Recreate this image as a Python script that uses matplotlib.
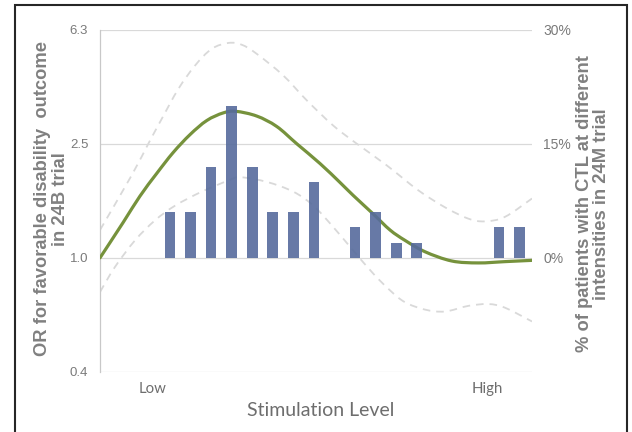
import numpy as np
import matplotlib
matplotlib.use("Agg")
import matplotlib.pyplot as plt
from matplotlib.path import Path
from matplotlib.patches import PathPatch, Rectangle

# ---- data -----------------------------------------------------------------
# share of patients (%) at each stimulation intensity slot (24M trial)
bar_pct = [0, 0, 0, 6, 6, 12, 20, 12, 6, 6, 10, 0, 4, 6, 2, 2, 0, 0, 0, 4, 4]

# odds ratio curve (24B trial) with its confidence band
or_x = [-0.4, 0.73, 1.54, 2.36, 3.16, 3.98, 4.79, 5.59, 6.21, 7.22, 8.19,
        9.16, 10.30, 11.27, 11.91, 12.89, 13.70, 14.43, 15.40, 16.70, 17.99,
        19.29, 20.6]
or_val = [1.00, 1.33, 1.64, 1.97, 2.33, 2.69, 3.01, 3.20, 3.24, 3.12, 2.87,
          2.50, 2.13, 1.83, 1.65, 1.42, 1.25, 1.15, 1.05, 0.975, 0.96,
          0.97, 0.98]

upper_x = [-0.4, 1.14, 1.95, 2.60, 3.41, 4.22, 5.03, 5.84, 6.49, 7.22, 8.51,
           9.65, 10.94, 12.08, 13.54, 15.07, 16.37, 17.50, 18.32, 19.29, 20.6]
upper_val = [1.25, 1.94, 2.50, 3.05, 3.88, 4.68, 5.35, 5.61, 5.53, 5.14, 4.32,
             3.54, 2.89, 2.50, 2.10, 1.72, 1.50, 1.37, 1.34, 1.39, 1.61]

lower_x = [-0.4, 0.33, 1.30, 2.27, 3.25, 4.54, 5.84, 6.41, 7.70, 9.00, 9.97,
           10.94, 11.91, 12.89, 13.70, 14.43, 15.40, 16.37, 17.50, 18.48, 19.29, 20.6]
lower_val = [0.76, 0.93, 1.15, 1.35, 1.52, 1.70, 1.86, 1.91, 1.84, 1.70, 1.52,
             1.28, 1.06, 0.88, 0.77, 0.70, 0.66, 0.65, 0.68, 0.69, 0.67, 0.60]

or_ticks = [0.4, 1.0, 2.5, 6.25]
or_tick_labels = ["0.4", "1.0", "2.5", "6.3"]
pct_ticks = [0, 15, 30]
pct_tick_labels = ["0%", "15%", "30%"]
level_labels = ["Low", "High"]

# ---- style ----------------------------------------------------------------
GREEN = "#76923C"
BAND = "#D9D9D9"
BAR = "#566B9C"
GRID = "#D9D9D9"
TICK = "#7A7A7A"
TITLE = "#808080"
W, H = 632, 432


def smooth_path(xs, ys):
    """Catmull-Rom style Bezier path through the points (log-y space)."""
    pts = np.column_stack([np.asarray(xs, float), np.log(np.asarray(ys, float))])
    n = len(pts)
    verts = [pts[0]]
    codes = [Path.MOVETO]
    for i in range(n - 1):
        p0 = pts[max(i - 1, 0)]
        p1 = pts[i]
        p2 = pts[i + 1]
        p3 = pts[min(i + 2, n - 1)]
        verts += [p1 + (p2 - p0) / 6.0, p2 - (p3 - p1) / 6.0, p2]
        codes += [Path.CURVE4] * 3
    v = np.array(verts)
    v[:, 1] = np.exp(v[:, 1])
    return Path(v, codes)


plt.rcParams["font.family"] = ["Liberation Sans", "DejaVu Sans"]
fig = plt.figure(figsize=(W / 100, H / 100), dpi=100)
fig.patch.set_facecolor("white")

ax = fig.add_axes([100 / W, 1 - 372 / H, 432 / W, (372 - 29.5) / H])
ax.set_yscale("log", base=2.5)
ax.set_ylim(0.4, 6.25)
ax.set_xlim(-0.4, 20.6)
ax.set_yticks(or_ticks)
ax.set_yticklabels(or_tick_labels)
ax.yaxis.set_minor_locator(matplotlib.ticker.NullLocator())
ax.tick_params(axis="y", length=0, pad=8.5, labelsize=9.5, labelcolor=TICK)
ax.grid(axis="y", color=GRID, linewidth=0.9)
ax.set_axisbelow(True)
for s in ["top", "right", "bottom"]:
    ax.spines[s].set_visible(False)
ax.spines["left"].set_color("#C8C8C8")
ax.spines["left"].set_linewidth(0.9)

# confidence band and odds-ratio curve
for xs, ys in [(upper_x, upper_val), (lower_x, lower_val)]:
    ax.add_patch(PathPatch(smooth_path(xs, ys), fill=False, edgecolor=BAND,
                           linewidth=1.3, linestyle=(0, (4.2, 3.3)), zorder=2))
ax.add_patch(PathPatch(smooth_path(or_x, or_val), fill=False, edgecolor=GREEN,
                       linewidth=2.3, capstyle="round", zorder=3))

ax.set_xticks([2.16, 18.44])
ax.set_xticklabels(level_labels, fontfamily="Lato", fontsize=10.8, color="#6E6E6E")
ax.tick_params(axis="x", length=0, pad=7.5)
ax.set_xlabel("Stimulation Level", fontfamily="Lato", fontsize=14,
              color="#6E6E6E")
ax.xaxis.set_label_coords(0.512, (372 - 410) / 342.5)
ax.xaxis.label.set_va("center")

# secondary axis with the patient distribution bars
ax2 = ax.twinx()
ax2.set_ylim(-15, 30)
ax2.set_yticks(pct_ticks)
ax2.set_yticklabels(pct_tick_labels)
ax2.tick_params(axis="y", length=0, pad=8, labelsize=10, labelcolor=TICK)
for s in ax2.spines.values():
    s.set_visible(False)
ax2.bar(np.arange(len(bar_pct)), bar_pct, width=0.52, color=BAR, alpha=0.9,
        linewidth=0, zorder=4)

# axis titles
fig.text(51.5 / W, 1 - 199 / H,
         "OR for favorable disability  outcome\nin 24B trial",
         rotation=90, ha="center", va="center", multialignment="center",
         fontsize=13.2, fontweight="bold", color=TITLE, linespacing=1.05)
fig.text(593 / W, 1 - 204 / H,
         "% of patients with CTL at different\nintensities in 24M trial",
         rotation=90, ha="center", va="center", multialignment="center",
         fontsize=13.2, fontweight="bold", color=TITLE, linespacing=1.05)

# outer frame
fig.patches.append(Rectangle((15 / W, -0.05), 612 / W, 1.05 - 5 / H,
                             transform=fig.transFigure, fill=False,
                             edgecolor="#262626", linewidth=1.5, zorder=10))

fig.savefig("out.png", dpi=100)
